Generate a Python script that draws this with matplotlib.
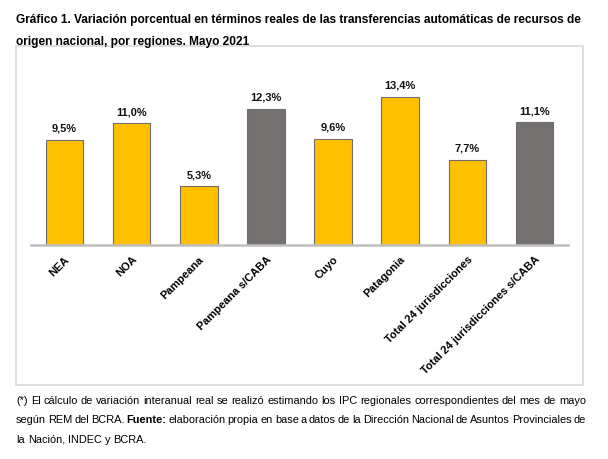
import numpy as np
import matplotlib.pyplot as plt
from matplotlib.patches import Rectangle

plt.rcParams['font.family'] = ['Liberation Sans', 'DejaVu Sans']

regiones = ['NEA', 'NOA', 'Pampeana', 'Pampeana s/CABA', 'Cuyo', 'Patagonia',
            'Total 24 jurisdicciones', 'Total 24 jurisdicciones s/CABA']
variacion = [9.5, 11.0, 5.3, 12.3, 9.6, 13.4, 7.7, 11.1]
es_total = [False, False, False, True, False, False, False, True]

titulo = ['Gráfico 1. Variación porcentual en términos reales de las transferencias automáticas de recursos de',
          'origen nacional, por regiones. Mayo 2021']
nota = [
    [('(*) El cálculo de variación interanual real se realizó estimando los IPC regionales correspondientes del mes de mayo', False)],
    [('según REM del BCRA.', False), ('Fuente:', True),
     ('elaboración propia en base a datos de la Dirección Nacional de Asuntos Provinciales de', False)],
    [('la Nación, INDEC y BCRA.', False)],
]

W, H = 608, 460
fig = plt.figure(figsize=(W / 100, H / 100), dpi=100)

def px(x, y):
    return x / W, 1 - y / H

# caja del gráfico
x0, y0 = px(16, 386)
x1, y1 = px(583, 47)
fig.patches.append(Rectangle((x0, y0), x1 - x0, y1 - y0, transform=fig.transFigure,
                             fill=False, edgecolor='#D9D9D9', linewidth=1.2))

l, b = px(31, 246)
r, t = px(568, 69)
ax = fig.add_axes([l, b, r - l, t - b])

colores = ['#767171' if tot else '#FFC000' for tot in es_total]
x = np.arange(len(regiones))
ax.bar(x, variacion, width=0.56, color=colores, edgecolor='#6E6E6E', linewidth=0.8, zorder=2)
for xi, v in zip(x, variacion):
    ax.annotate(f'{v:.1f}%'.replace('.', ','), (xi, v), xytext=(0, 5), textcoords='offset points',
                ha='center', va='bottom', fontsize=7.9, fontweight='bold', color='#111111')

ax.set_xlim(-0.5, len(regiones) - 0.5)
ax.set_ylim(0, 16)
ax.set_yticks([])
for s in ['top', 'right', 'left']:
    ax.spines[s].set_visible(False)
ax.spines['bottom'].set_color('#BFBFBF')
ax.spines['bottom'].set_linewidth(1.8)
ax.set_xticks(x)
ax.set_xticklabels(regiones, rotation=45, ha='right', rotation_mode='anchor',
                   fontsize=7.9, fontweight='bold')
ax.tick_params(axis='x', length=0, pad=6)

# título
for i, linea in enumerate(titulo):
    fig.text(*px(16, 20 + i * 22), linea, fontsize=8.6, fontweight='bold', va='center', ha='left')

# nota al pie, justificada
fig.canvas.draw()
renderer = fig.canvas.get_renderer()
izq, der = 16, 586
fs = 7.9
for i, linea in enumerate(nota):
    palabras = []
    for frag, negrita in linea:
        for p in frag.split(' '):
            palabras.append((p, negrita))
    yy = 401 + i * 19.5
    textos = []
    for p, negrita in palabras:
        tx = fig.text(*px(izq, yy), p, fontsize=fs, va='center', ha='left',
                      fontweight='bold' if negrita else 'normal')
        textos.append(tx)
    anchos = [tx.get_window_extent(renderer).width for tx in textos]
    sp = fs * 0.278 * 100 / 72
    if i < len(nota) - 1:
        sp = (der - izq - sum(anchos)) / (len(textos) - 1)
    pos = izq
    for tx, w in zip(textos, anchos):
        tx.set_position(px(pos, yy))
        pos += w + sp

fig.savefig('out.png', dpi=100)
